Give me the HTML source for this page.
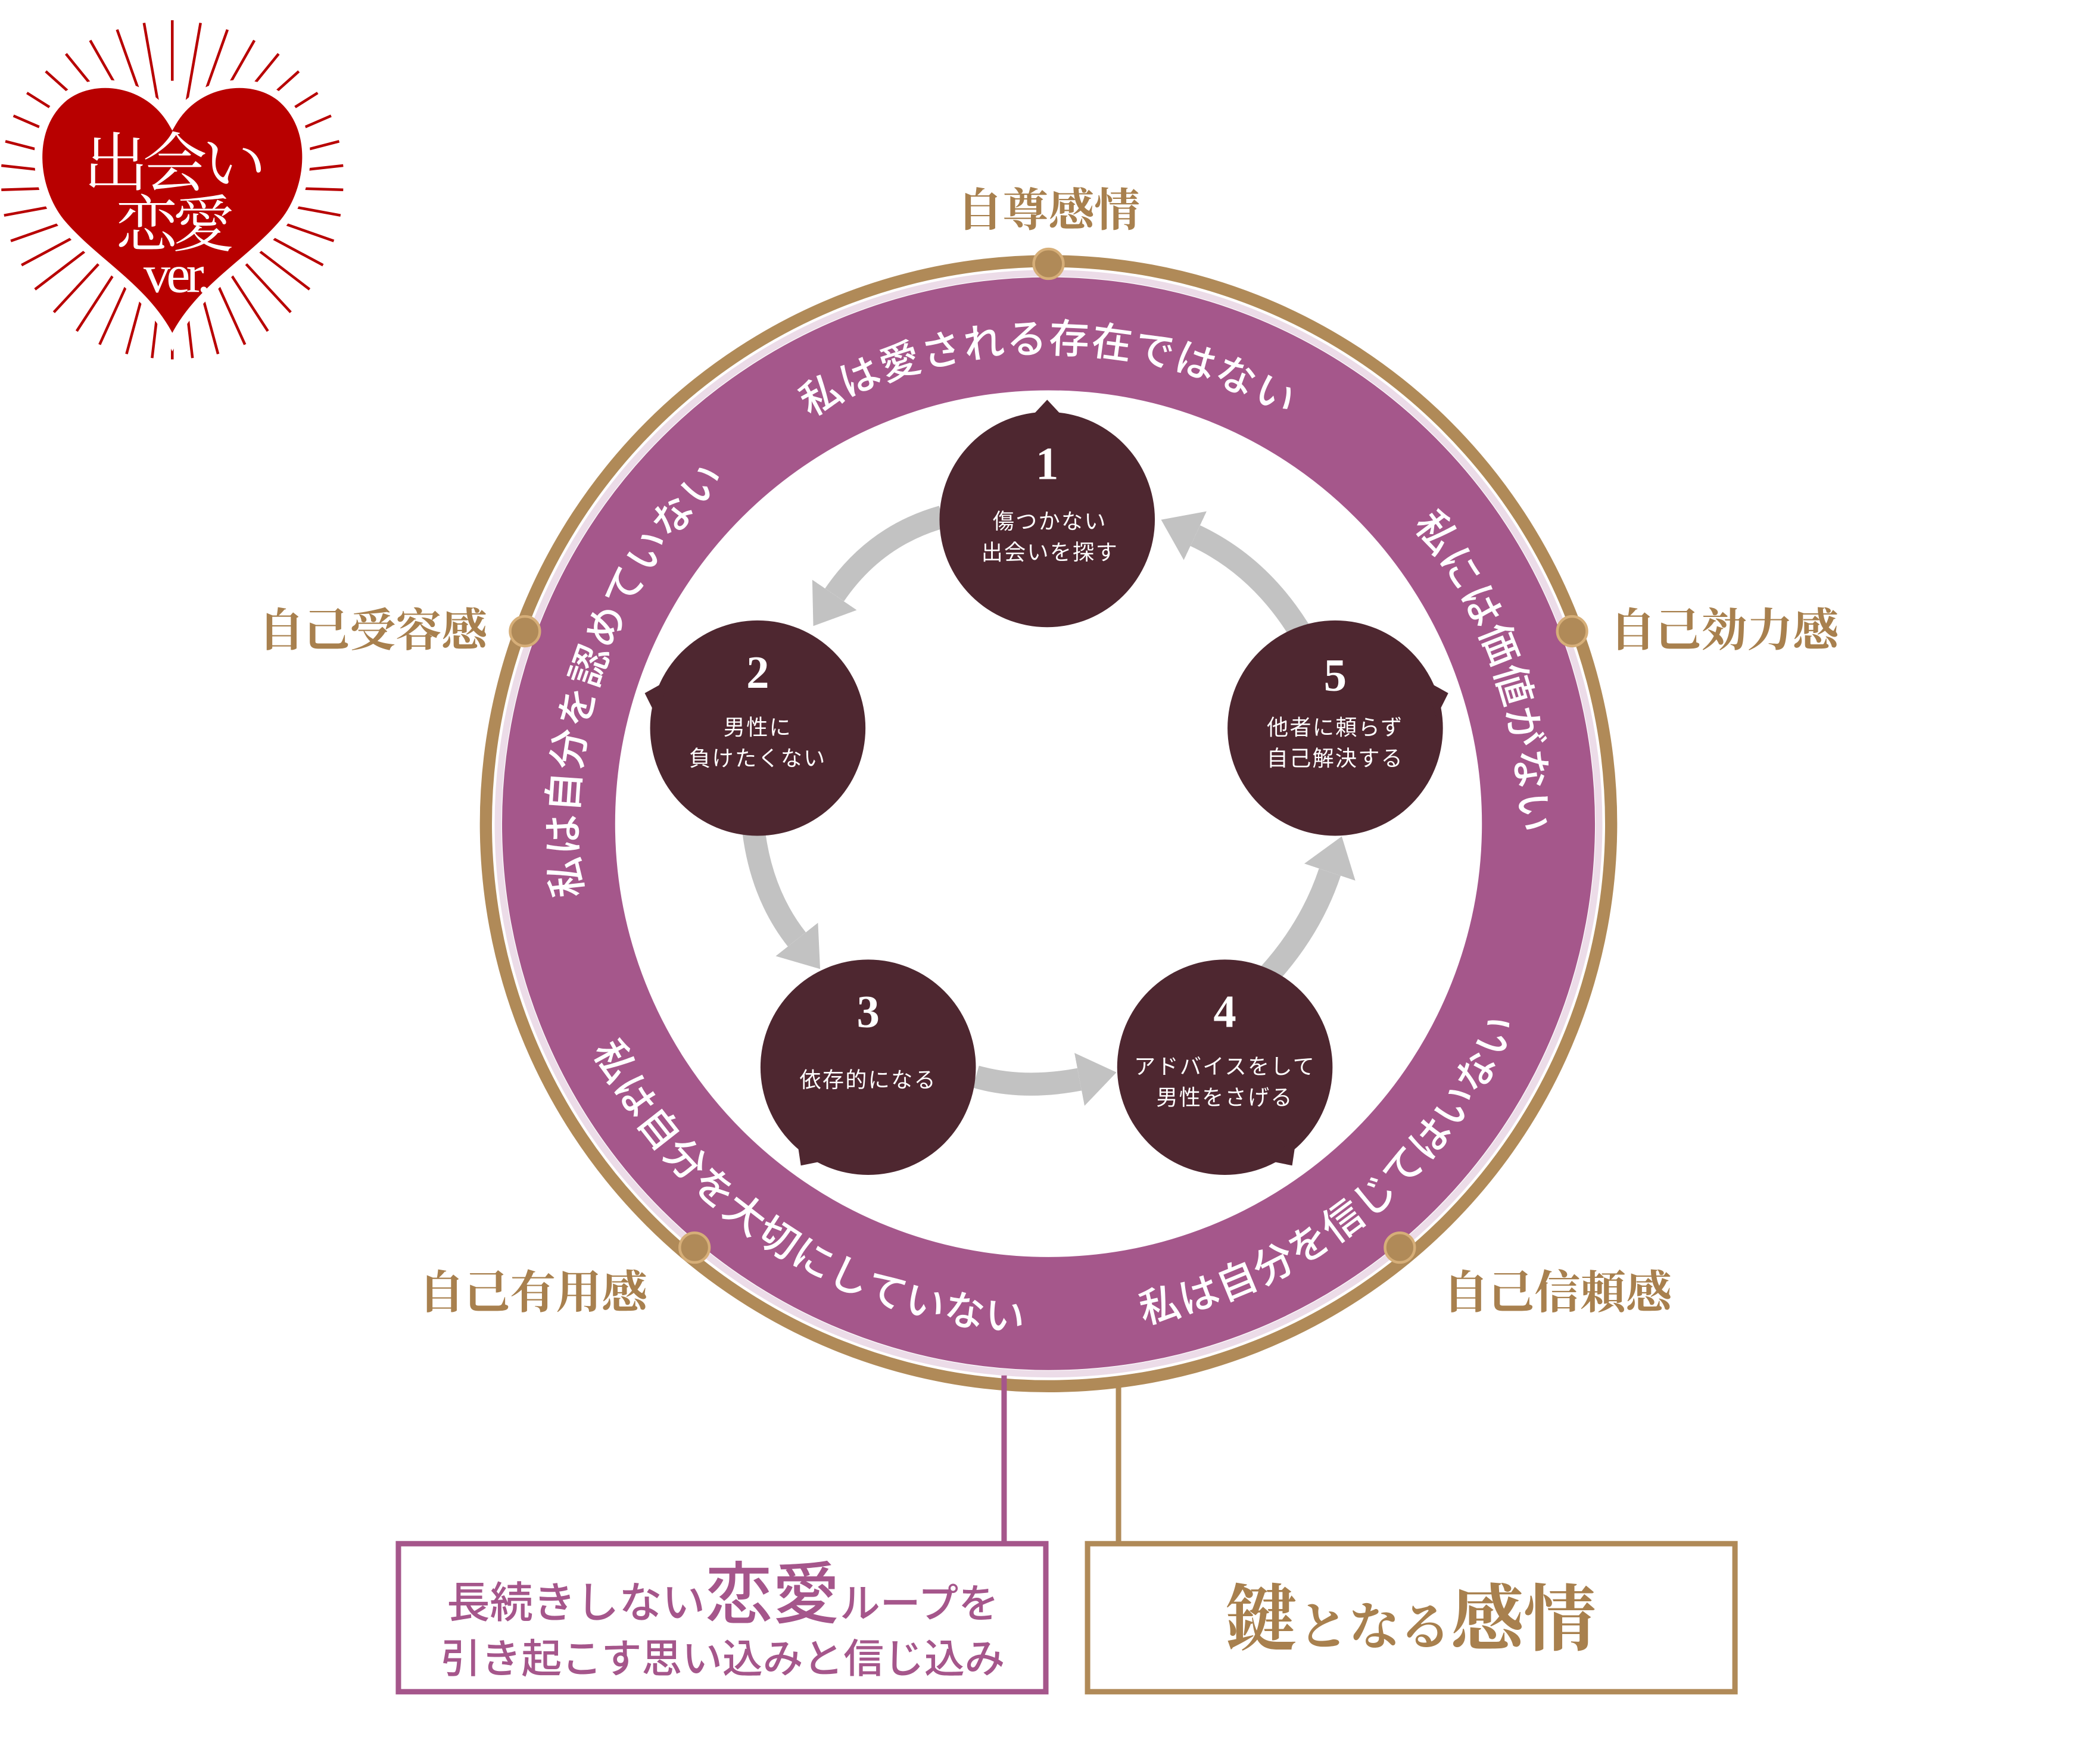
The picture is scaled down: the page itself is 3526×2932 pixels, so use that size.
<!DOCTYPE html>
<html><head><meta charset="utf-8"><style>
html,body{margin:0;padding:0;background:#fff;}
svg{display:block;}
.sans{font-family:"Liberation Sans","Noto Sans CJK JP",sans-serif;}
.serif{font-family:"Liberation Serif","Noto Serif CJK SC",serif;}
</style></head><body>
<svg width="3526" height="2932" viewBox="0 0 1560.2 1297.3" xmlns="http://www.w3.org/2000/svg">
<defs>
<marker id="ah" markerUnits="userSpaceOnUse" markerWidth="40" markerHeight="44" refX="0" refY="22" orient="auto" viewBox="0 0 40 44">
<path d="M0,2 L28,22 L0,42 z" fill="#c2c2c2"/>
</marker>
<path id="cw" d="M779,962 A350,350 0 1 1 779,262 A350,350 0 1 1 779,962"/>
<path id="ccw" d="M401,612 A378,378 0 1 0 1157,612 A378,378 0 1 0 401,612"/>
</defs>

<g stroke="#b80000" stroke-width="2">
<line x1="128" y1="137" x2="128" y2="15"/>
<line x1="128" y1="137" x2="149" y2="17"/>
<line x1="128" y1="137" x2="169" y2="22"/>
<line x1="128" y1="137" x2="189" y2="30"/>
<line x1="128" y1="137" x2="207" y2="40"/>
<line x1="128" y1="137" x2="222" y2="53"/>
<line x1="128" y1="137" x2="236" y2="69"/>
<line x1="128" y1="137" x2="246" y2="86"/>
<line x1="128" y1="137" x2="252" y2="105"/>
<line x1="128" y1="137" x2="255" y2="123"/>
<line x1="128" y1="137" x2="255" y2="141"/>
<line x1="128" y1="137" x2="253" y2="160"/>
<line x1="128" y1="137" x2="248" y2="179"/>
<line x1="128" y1="137" x2="240" y2="197"/>
<line x1="128" y1="137" x2="230" y2="215"/>
<line x1="128" y1="137" x2="216" y2="232"/>
<line x1="128" y1="137" x2="199" y2="246"/>
<line x1="128" y1="137" x2="182" y2="256"/>
<line x1="128" y1="137" x2="162" y2="263"/>
<line x1="128" y1="137" x2="143" y2="266"/>
<line x1="128" y1="137" x2="128" y2="267"/>
<line x1="128" y1="137" x2="113" y2="266"/>
<line x1="128" y1="137" x2="94" y2="263"/>
<line x1="128" y1="137" x2="74" y2="256"/>
<line x1="128" y1="137" x2="57" y2="246"/>
<line x1="128" y1="137" x2="40" y2="232"/>
<line x1="128" y1="137" x2="26" y2="215"/>
<line x1="128" y1="137" x2="16" y2="197"/>
<line x1="128" y1="137" x2="8" y2="179"/>
<line x1="128" y1="137" x2="3" y2="160"/>
<line x1="128" y1="137" x2="1" y2="141"/>
<line x1="128" y1="137" x2="1" y2="123"/>
<line x1="128" y1="137" x2="4" y2="105"/>
<line x1="128" y1="137" x2="10" y2="86"/>
<line x1="128" y1="137" x2="20" y2="69"/>
<line x1="128" y1="137" x2="34" y2="53"/>
<line x1="128" y1="137" x2="49" y2="40"/>
<line x1="128" y1="137" x2="67" y2="30"/>
<line x1="128" y1="137" x2="87" y2="22"/>
<line x1="128" y1="137" x2="107" y2="17"/>
</g>
<circle cx="128" cy="137" r="58" fill="#fff"/>
<path d="M128,91 C110,60 70,55 48,72 C20,95 25,140 45,165 C70,195 110,215 128,254 C146,215 186,195 211,165 C231,140 236,95 208,72 C186,55 146,60 128,91 Z" fill="#b80000" stroke="#fff" stroke-width="6"/>
<line x1="128" y1="60" x2="128" y2="92" stroke="#fff" stroke-width="3"/>
<g class="serif" fill="#fff" text-anchor="middle">
<text x="128" y="138" font-size="48" letter-spacing="-4">出会い</text>
<text x="128" y="183" font-size="46" letter-spacing="-4">恋愛</text>
<text x="130" y="217" font-size="40" letter-spacing="-3">ver.</text>
</g>

<circle cx="779" cy="612" r="418" fill="none" stroke="#b08a58" stroke-width="9"/>
<circle cx="779" cy="612" r="409" fill="none" stroke="#ecdce8" stroke-width="5"/>
<circle cx="779" cy="612" r="364" fill="none" stroke="#a5578b" stroke-width="84"/>

<line x1="746" y1="1022" x2="746" y2="1147" stroke="#a5568b" stroke-width="4"/>
<line x1="831" y1="1030" x2="831" y2="1147" stroke="#b08a58" stroke-width="4"/>

<g fill="#b08a58" stroke="#d6ae78" stroke-width="2">
<circle cx="779" cy="196" r="11"/>
<circle cx="390" cy="469" r="11"/>
<circle cx="1168" cy="469" r="11"/>
<circle cx="516" cy="927" r="11"/>
<circle cx="1040" cy="927" r="11"/>
</g>

<g class="sans" fill="#fff" font-size="30" font-weight="500" text-anchor="middle" letter-spacing="1">
<text><textPath href="#cw" startOffset="50%">私は愛される存在ではない</textPath></text>
<text><textPath href="#cw" startOffset="69.7%">私には価値がない</textPath></text>
<text><textPath href="#cw" startOffset="30.3%">私は自分を認めていない</textPath></text>
<text><textPath href="#ccw" startOffset="15.8%">私は自分を大切にしていない</textPath></text>
<text><textPath href="#ccw" startOffset="35.8%">私は自分を信じてはいない</textPath></text>
</g>

<g class="serif" fill="#a8804e" font-size="34" font-weight="700" text-anchor="middle">
<text x="779" y="168">自尊感情</text>
<text x="277" y="480">自己受容感</text>
<text x="1281" y="480">自己効力感</text>
<text x="396" y="972">自己有用感</text>
<text x="1157" y="972">自己信頼感</text>
</g>

<g fill="none" stroke="#c2c2c2" stroke-width="17" marker-end="url(#ah)">
<path d="M700,384 Q650,398 620,442"/>
<path d="M560,618 Q566,665 592,698"/>
<path d="M725,800 Q760,810 802,802"/>
<path d="M942,725 Q974,690 988,648"/>
<path d="M965,468 Q935,420 888,398"/>
</g>

<g fill="#4e2730">
<circle cx="778" cy="386" r="80"/>
<polygon points="778,297 764,312 792,312"/>
<circle cx="563" cy="541" r="80"/>
<polygon points="479,515 497,505 488,533"/>
<circle cx="645" cy="793" r="80"/>
<polygon points="595,866 615,862 592,846"/>
<circle cx="910" cy="793" r="80"/>
<polygon points="960,866 940,862 963,846"/>
<circle cx="992" cy="541" r="80"/>
<polygon points="1076,515 1058,505 1067,533"/>
</g>
<g class="serif" fill="#fff" font-size="34" font-weight="700" text-anchor="middle">
<text x="778" y="356">1</text>
<text x="563" y="511">2</text>
<text x="645" y="763">3</text>
<text x="910" y="763">4</text>
<text x="992" y="513">5</text>
</g>
<g class="sans" fill="#fff" font-size="16" text-anchor="middle" letter-spacing="1">
<text x="780" y="393">傷つかない</text>
<text x="780" y="416">出会いを探す</text>
<text x="563" y="546">男性に</text>
<text x="563" y="569">負けたくない</text>
<text x="645" y="808">依存的になる</text>
<text x="910" y="798">アドバイスをして</text>
<text x="910" y="821">男性をさげる</text>
<text x="992" y="546">他者に頼らず</text>
<text x="992" y="569">自己解決する</text>
</g>

<rect x="296" y="1147" width="481" height="110" fill="#fff" stroke="#a5568b" stroke-width="4"/>
<rect x="808" y="1147" width="481" height="110" fill="#fff" stroke="#b08a58" stroke-width="4"/>
<g class="sans" fill="#a5568b" text-anchor="middle" font-weight="500">
<text x="537" y="1202"><tspan font-size="32">長続きしない</tspan><tspan font-size="50">恋愛</tspan><tspan font-size="30">ループを</tspan></text>
<text x="537" y="1243" font-size="30">引き起こす思い込みと信じ込み</text>
</g>
<g class="serif" fill="#a8804e" text-anchor="middle" font-weight="700">
<text x="1048" y="1222"><tspan font-size="54">鍵</tspan><tspan font-size="38">となる</tspan><tspan font-size="54">感情</tspan></text>
</g>
</svg>
</body></html>
